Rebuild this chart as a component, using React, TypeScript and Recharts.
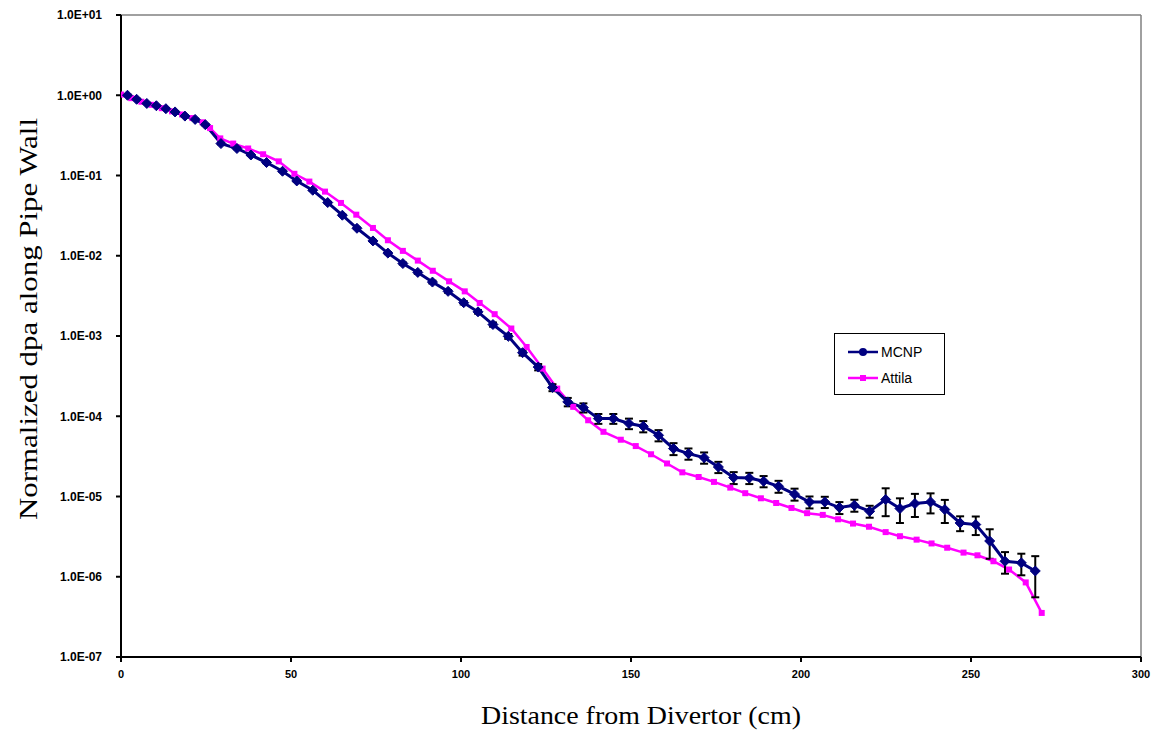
import {
  LineChart,
  Line,
  XAxis,
  YAxis,
  ErrorBar,
  ReferenceLine,
  Legend,
  Label,
} from "recharts"

// MCNP tally positions (cm) and normalized dpa
const mcnpX = [
  1.9, 4.6, 7.6, 10.4, 13.2, 15.9, 18.8, 21.8, 24.8,
  29.4, 34.1, 38.2, 42.8, 47.5, 51.7, 56.4, 60.8, 65.1, 69.4,
  74.1, 78.5, 82.9, 87.3, 91.6, 96.2, 100.8, 105.0, 109.4, 113.9,
  118.1, 122.7, 126.9, 131.4, 136.0, 140.4, 144.8, 149.4,
  153.6, 158.1, 162.5, 166.9, 171.5, 175.7, 180.2, 184.8, 189.0, 193.4,
  198.1, 202.5, 207.0, 211.3, 215.7, 220.2, 224.9,
  229.1, 233.5, 238.1, 242.3, 246.8, 251.4, 255.5, 260.0, 264.8, 268.9,
]
const mcnpY = [
  1.0, 0.89, 0.79, 0.74, 0.68, 0.62, 0.55, 0.5, 0.43,
  0.25, 0.217, 0.18, 0.145, 0.113, 0.0855, 0.0655, 0.046, 0.032, 0.022,
  0.0153, 0.0108, 0.008, 0.0062, 0.0047, 0.0036, 0.0026, 0.002, 0.00139, 0.00099,
  0.00062, 0.00041, 0.000228, 0.000151, 0.000128, 0.0000935, 0.0000935, 0.0000812,
  0.000075, 0.0000579, 0.0000395, 0.0000342, 0.0000305, 0.0000233, 0.0000172, 0.000017, 0.0000155, 0.0000134,
  0.0000107, 0.00000855, 0.00000855, 0.00000728, 0.00000778, 0.00000655, 0.00000917,
  0.00000708, 0.00000817, 0.00000855, 0.00000687, 0.00000468, 0.00000447, 0.00000279, 0.00000156, 0.00000149, 0.00000118,
]
// relative 1-sigma error of each MCNP point
const mcnpRelErr = [
  0.02, 0.02, 0.02, 0.02, 0.02, 0.02, 0.02, 0.02, 0.02,
  0.02, 0.02, 0.02, 0.02, 0.02, 0.02, 0.02, 0.02, 0.02, 0.02,
  0.03, 0.03, 0.03, 0.04, 0.04, 0.04, 0.05, 0.05, 0.06, 0.07,
  0.08, 0.09, 0.1, 0.12, 0.13, 0.14, 0.14, 0.15,
  0.16, 0.16, 0.17, 0.16, 0.16, 0.16, 0.17, 0.16, 0.16, 0.17,
  0.17, 0.17, 0.16, 0.17, 0.17, 0.17, 0.38,
  0.34, 0.32, 0.28, 0.32, 0.21, 0.26, 0.4, 0.3, 0.3, 0.53,
]

const attilaX = [
  0, 3, 6, 9, 12, 15, 18, 21, 24, 26.2, 29.2,
  33.0, 37.4, 41.8, 46.4, 51.0, 55.4, 60.0, 64.7, 69.2,
  74.1, 78.5, 82.9, 87.3, 91.7, 96.5, 101.1, 105.5, 109.9, 114.8,
  119.3, 124.0, 128.3, 133.0, 137.4, 141.9, 147.0, 151.4, 155.9,
  160.6, 165.1, 169.9, 174.4, 179.2, 183.6, 188.2, 192.7, 197.2,
  201.8, 206.4, 210.9, 215.3, 220.0, 224.9, 229.1, 234.0, 238.4,
  243.0, 247.8, 251.9, 256.6, 261.2, 266.1, 270.8,
]
const attilaY = [
  1.02, 0.92, 0.83, 0.76, 0.69, 0.63, 0.575, 0.52, 0.46, 0.39, 0.29,
  0.25, 0.217, 0.184, 0.15, 0.105, 0.084, 0.063, 0.0455, 0.0325,
  0.0222, 0.0156, 0.0115, 0.0087, 0.0065, 0.0048, 0.0036, 0.00258, 0.00187, 0.00124,
  0.00073, 0.000393, 0.000221, 0.000131, 0.0000891, 0.000064, 0.000051, 0.0000425, 0.0000336,
  0.0000258, 0.00002, 0.0000175, 0.0000152, 0.0000129, 0.000011, 0.0000095, 0.0000083, 0.0000072,
  0.0000062, 0.0000059, 0.0000052, 0.0000046, 0.0000042, 0.0000036, 0.0000032, 0.0000029, 0.0000026,
  0.0000023, 0.000002, 0.00000185, 0.00000156, 0.00000123, 0.00000085, 0.000000354,
]

const xTicks = [0, 50, 100, 150, 200, 250, 300]
const yTicks = [1e-7, 1e-6, 1e-5, 1e-4, 1e-3, 1e-2, 1e-1, 1, 10]

const MCNP_COLOR = "#000080"
const ATTILA_COLOR = "#FF00FF"
const SANS = "Liberation Sans, Arial, sans-serif"
const X_TICK_FONT = { fontFamily: SANS, fontSize: 11, fontWeight: 700, fill: "#000" }
const Y_TICK_FONT = { fontFamily: SANS, fontSize: 12, fontWeight: 700, fill: "#000" }
const TITLE_FONT = { fontFamily: "Liberation Serif, Times New Roman, serif", fontSize: 26, fill: "#000" }

const mcnpData = mcnpX.map((x, i) => {
  const e = mcnpY[i] * mcnpRelErr[i]
  return { x, y: mcnpY[i], err: [e, e] }
})
const attilaData = attilaX.map((x, i) => ({ x, y: attilaY[i] }))

// Excel style "1.0E-05"
const sciLabel = (v: number) => {
  const exp = Math.round(Math.log10(v))
  return `1.0E${exp < 0 ? "-" : "+"}${String(Math.abs(exp)).padStart(2, "0")}`
}

const Diamond = (p: any) => {
  const { cx, cy } = p
  if (cx == null || cy == null) return <g key={p.key} />
  const r = 5
  return (
    <polygon
      key={p.key}
      points={`${cx},${cy - r} ${cx + r},${cy} ${cx},${cy + r} ${cx - r},${cy}`}
      fill={MCNP_COLOR}
      stroke={MCNP_COLOR}
    />
  )
}

const Square = (p: any) => {
  const { cx, cy } = p
  if (cx == null || cy == null) return <g key={p.key} />
  return <rect key={p.key} x={cx - 3} y={cy - 3} width={6} height={6} fill={ATTILA_COLOR} />
}

const legendItems = [
  { name: "MCNP", color: MCNP_COLOR, square: false },
  { name: "Attila", color: ATTILA_COLOR, square: true },
]

const LegendBox = () => (
  <div
    style={{
      width: 111,
      height: 62,
      boxSizing: "border-box",
      border: "1px solid #000",
      background: "#fff",
      paddingTop: 5,
      fontFamily: SANS,
      fontSize: 14,
      color: "#000",
    }}
  >
    {legendItems.map((it) => (
      <div key={it.name} style={{ display: "flex", alignItems: "center", height: 26, paddingLeft: 13 }}>
        <svg width={32} height={10} style={{ marginRight: 1 }}>
          <line x1={0} y1={5} x2={30} y2={5} stroke={it.color} strokeWidth={2.5} />
          {it.square ? (
            <rect x={12} y={2} width={6} height={6} fill={it.color} />
          ) : (
            <circle cx={15} cy={5} r={4} fill={it.color} />
          )}
        </svg>
        <span>{it.name}</span>
      </div>
    ))}
  </div>
)

export default function App() {
  return (
    <div style={{ position: "absolute", left: 0, top: 0, background: "#fff" }}>
      <LineChart width={1151} height={730} margin={{ top: 15, right: 10, bottom: 0, left: 0 }}>
        <XAxis
          dataKey="x"
          type="number"
          domain={[0, 300]}
          ticks={xTicks}
          allowDataOverflow
          height={73}
          stroke="#000"
          axisLine={{ stroke: "#000", strokeWidth: 2 }}
          tickLine={{ stroke: "#000", strokeWidth: 2 }}
          tickSize={5}
          tickMargin={8}
          tick={X_TICK_FONT}
        >
          <Label
            content={() => (
              <text
                x={641}
                y={724}
                textAnchor="middle"
                textLength={320}
                lengthAdjust="spacingAndGlyphs"
                style={TITLE_FONT}
              >
                Distance from Divertor (cm)
              </text>
            )}
          />
        </XAxis>
        <YAxis
          dataKey="y"
          scale="log"
          domain={[1e-7, 10]}
          ticks={yTicks}
          allowDataOverflow
          width={121}
          stroke="#000"
          axisLine={{ stroke: "#000", strokeWidth: 2 }}
          tickLine={{ stroke: "#000", strokeWidth: 2 }}
          tickSize={5}
          tickMargin={14}
          tick={Y_TICK_FONT}
          tickFormatter={sciLabel}
        >
          <Label
            content={() => (
              <text
                x={28}
                y={319}
                textAnchor="middle"
                dominantBaseline="central"
                transform="rotate(-90, 28, 319)"
                textLength={402}
                lengthAdjust="spacingAndGlyphs"
                style={TITLE_FONT}
              >
                Normalized dpa along Pipe Wall
              </text>
            )}
          />
        </YAxis>
        <ReferenceLine y={10} stroke="#808080" strokeWidth={1.5} />
        <ReferenceLine x={300} stroke="#808080" strokeWidth={1.5} />
        <Legend
          layout="vertical"
          align="center"
          verticalAlign="middle"
          content={() => <LegendBox />}
          wrapperStyle={{ left: 834, top: 333, width: 111, height: 62 }}
        />
        <Line
          data={attilaData}
          dataKey="y"
          name="Attila"
          stroke={ATTILA_COLOR}
          strokeWidth={2.5}
          dot={Square}
          activeDot={false}
          isAnimationActive={false}
        />
        <Line
          data={mcnpData}
          dataKey="y"
          name="MCNP"
          stroke={MCNP_COLOR}
          strokeWidth={3}
          dot={Diamond}
          activeDot={false}
          isAnimationActive={false}
        >
          <ErrorBar dataKey="err" direction="y" width={4} stroke="#000" strokeWidth={2} />
        </Line>
      </LineChart>
    </div>
  )
}
